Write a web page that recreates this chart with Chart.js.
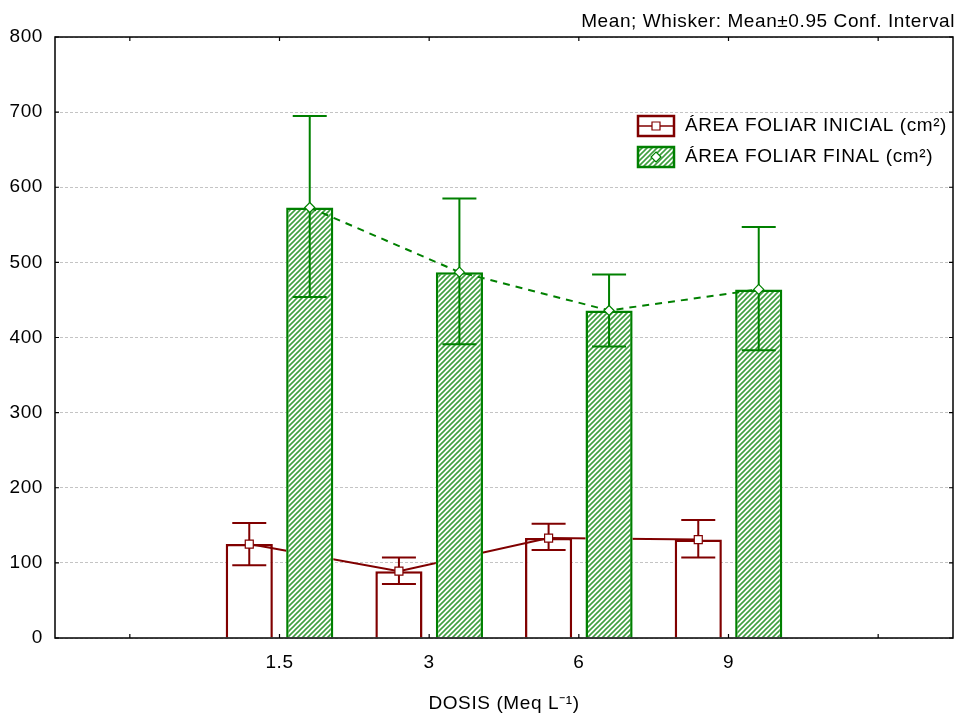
<!DOCTYPE html>
<html lang="es">
<head>
  <meta charset="UTF-8" />
  <title>Área foliar por dosis</title>
  <style>
    body { margin: 0; background: #fff; }
    #grafico { display: block; }
  </style>
  <script src="https://cdn.jsdelivr.net/npm/chart.js"></script>
</head>
<body>
  <canvas id="grafico" width="962" height="717"></canvas>
  <script>
    // datos
    const categorias = ["", "1.5", "3", "6", "9", ""];
    const inicialMedia = [null, 125, 89, 133, 131, null];
    const inicialBajo = [null, 97, 72, 117, 107, null];
    const inicialAlto = [null, 153, 107, 152, 157, null];
    const finalMedia = [null, 573, 487, 436, 464, null];
    const finalBajo = [null, 454, 391, 388, 383, null];
    const finalAlto = [null, 695, 585, 484, 547, null];
    const ticksY = [0, 100, 200, 300, 400, 500, 600, 700, 800];

    const ROJO = "#800000";
    const VERDE = "#008000";
    const FUENTE = "'Liberation Sans', Arial, sans-serif";
    const ESPACIO = "0.6px";

    // trama diagonal para las barras verdes
    function crearTrama() {
      const c = document.createElement("canvas");
      c.width = 5;
      c.height = 5;
      const g = c.getContext("2d");
      g.fillStyle = "#ffffff";
      g.fillRect(0, 0, 5, 5);
      g.strokeStyle = "#3f9f3f";
      g.lineWidth = 1.6;
      g.beginPath();
      g.moveTo(-1, 6); g.lineTo(6, -1);
      g.moveTo(-1, 1); g.lineTo(1, -1);
      g.moveTo(4, 6); g.lineTo(6, 4);
      g.stroke();
      return g.createPattern(c, "repeat");
    }
    const trama = crearTrama();

    function marcador(ctx, x, y, tipo, color) {
      ctx.save();
      ctx.fillStyle = "#fff";
      ctx.strokeStyle = color;
      ctx.lineWidth = 1.2;
      ctx.beginPath();
      if (tipo === "cuadro") {
        ctx.rect(x - 4, y - 4, 8, 8);
      } else {
        ctx.moveTo(x, y - 5); ctx.lineTo(x + 5, y); ctx.lineTo(x, y + 5); ctx.lineTo(x - 5, y); ctx.closePath();
      }
      ctx.fill();
      ctx.stroke();
      ctx.restore();
    }

    const series = [
      { media: inicialMedia, bajo: inicialBajo, alto: inicialAlto, color: ROJO, dash: [], tipo: "cuadro" },
      { media: finalMedia, bajo: finalBajo, alto: finalAlto, color: VERDE, dash: [7, 6], tipo: "rombo" }
    ];

    function dibujarSerie(chart, idx, tapar) {
      const s = series[idx];
      const ctx = chart.ctx;
      const y = chart.scales.y;
      const barras = chart.getDatasetMeta(idx).data;
      ctx.save();
      // la linea roja queda por detras de las barras verdes
      if (tapar) {
        const a = chart.chartArea;
        ctx.beginPath();
        ctx.rect(a.left, a.top, a.right - a.left, a.bottom - a.top);
        tapar.forEach(b => {
          if (b.width == null || isNaN(b.y)) return;
          ctx.rect(b.x - b.width / 2, b.y, b.width, b.base - b.y);
        });
        ctx.clip("evenodd");
      }
      ctx.strokeStyle = s.color;
      ctx.lineWidth = 2;
      ctx.setLineDash(s.dash);
      ctx.beginPath();
      let primero = true;
      barras.forEach((b, i) => {
        if (s.media[i] == null) return;
        const py = y.getPixelForValue(s.media[i]);
        if (primero) { ctx.moveTo(b.x, py); primero = false; } else ctx.lineTo(b.x, py);
      });
      ctx.stroke();
      ctx.restore();
      // bigotes
      ctx.save();
      ctx.strokeStyle = s.color;
      ctx.lineWidth = 2;
      barras.forEach((b, i) => {
        if (s.media[i] == null) return;
        const y1 = y.getPixelForValue(s.alto[i]);
        const y2 = y.getPixelForValue(s.bajo[i]);
        ctx.beginPath();
        ctx.moveTo(b.x, y1); ctx.lineTo(b.x, y2);
        ctx.moveTo(b.x - 17, y1); ctx.lineTo(b.x + 17, y1);
        ctx.moveTo(b.x - 17, y2); ctx.lineTo(b.x + 17, y2);
        ctx.stroke();
      });
      ctx.restore();
      barras.forEach((b, i) => {
        if (s.media[i] == null) return;
        marcador(ctx, b.x, y.getPixelForValue(s.media[i]), s.tipo, s.color);
      });
    }

    const extras = {
      id: "extras",
      beforeUpdate(chart) {
        chart.ctx.letterSpacing = ESPACIO;
      },
      afterDatasetsDraw(chart) {
        dibujarSerie(chart, 0, chart.getDatasetMeta(1).data);
        dibujarSerie(chart, 1, null);
      },
      afterDraw(chart) {
        const ctx = chart.ctx;
        const a = chart.chartArea;
        const x = chart.scales.x;
        const y = chart.scales.y;
        ctx.save();
        // marco
        ctx.strokeStyle = "#000";
        ctx.lineWidth = 1.5;
        ctx.strokeRect(a.left, a.top, a.right - a.left, a.bottom - a.top);
        ctx.lineWidth = 1.2;
        ctx.beginPath();
        categorias.forEach((c, i) => {
          const px = x.getPixelForValue(i);
          ctx.moveTo(px, a.bottom); ctx.lineTo(px, a.bottom - 4);
          ctx.moveTo(px, a.top); ctx.lineTo(px, a.top + 4);
        });
        ticksY.forEach(v => {
          const py = y.getPixelForValue(v);
          ctx.moveTo(a.left, py); ctx.lineTo(a.left + 4, py);
          ctx.moveTo(a.right, py); ctx.lineTo(a.right - 4, py);
        });
        ctx.stroke();

        // texto superior
        ctx.letterSpacing = ESPACIO;
        ctx.fillStyle = "#000";
        ctx.font = "19px " + FUENTE;
        ctx.textAlign = "right";
        ctx.textBaseline = "middle";
        ctx.fillText("Mean; Whisker: Mean\u00b10.95 Conf. Interval", 955, 22);

        // leyenda
        const items = [
          { txt: "ÁREA FOLIAR INICIAL (cm²)", color: ROJO, fondo: "#fff", tipo: "cuadro", cy: 126 },
          { txt: "ÁREA FOLIAR FINAL (cm²)", color: VERDE, fondo: trama, tipo: "rombo", cy: 157 }
        ];
        items.forEach(it => {
          ctx.fillStyle = it.fondo;
          ctx.fillRect(638, it.cy - 10, 36, 20);
          ctx.strokeStyle = it.color;
          ctx.lineWidth = 2.5;
          ctx.strokeRect(638, it.cy - 10, 36, 20);
          if (it.tipo === "cuadro") {
            ctx.lineWidth = 1.5;
            ctx.beginPath();
            ctx.moveTo(638, it.cy); ctx.lineTo(674, it.cy);
            ctx.stroke();
          }
          marcador(ctx, 656, it.cy, it.tipo, it.color);
          ctx.fillStyle = "#000";
          ctx.font = "19px " + FUENTE;
          ctx.textAlign = "left";
          ctx.fillText(it.txt, 685, it.cy);
        });
        ctx.restore();
      }
    };

    new Chart(document.getElementById("grafico"), {
      type: "bar",
      data: {
        labels: categorias,
        datasets: [
          {
            label: "ÁREA FOLIAR INICIAL (cm²)",
            data: inicialMedia,
            backgroundColor: "#fff",
            borderColor: ROJO,
            borderWidth: 2.5
          },
          {
            label: "ÁREA FOLIAR FINAL (cm²)",
            data: finalMedia,
            backgroundColor: trama,
            borderColor: VERDE,
            borderWidth: 2.5
          }
        ]
      },
      options: {
        responsive: false,
        devicePixelRatio: 1,
        animation: false,
        categoryPercentage: 0.808,
        barPercentage: 0.78,
        layout: { padding: { top: 37, right: 9, left: 0, bottom: 0 } },
        plugins: { legend: { display: false }, tooltip: { enabled: false } },
        scales: {
          x: {
            grid: { display: false, drawTicks: false },
            border: { display: false },
            ticks: { color: "#000", font: { family: FUENTE, size: 19 }, padding: 13, maxRotation: 0, autoSkip: false },
            title: {
              display: true,
              text: "DOSIS (Meq L⁻¹)",
              color: "#000",
              font: { family: FUENTE, size: 19 },
              padding: { top: 0, bottom: 2 }
            },
            afterFit: s => { s.height = 79; }
          },
          y: {
            min: 0,
            max: 800,
            afterBuildTicks: s => { s.ticks = ticksY.map(v => ({ value: v })); },
            grid: {
              color: "#c4c4c4",
              lineWidth: 1,
              drawTicks: false
            },
            border: { display: false, dash: [3, 2] },
            ticks: { color: "#000", font: { family: FUENTE, size: 19 }, padding: 12 },
            afterFit: s => { s.width = 55; }
          }
        }
      },
      plugins: [extras]
    });
  </script>
</body>
</html>
